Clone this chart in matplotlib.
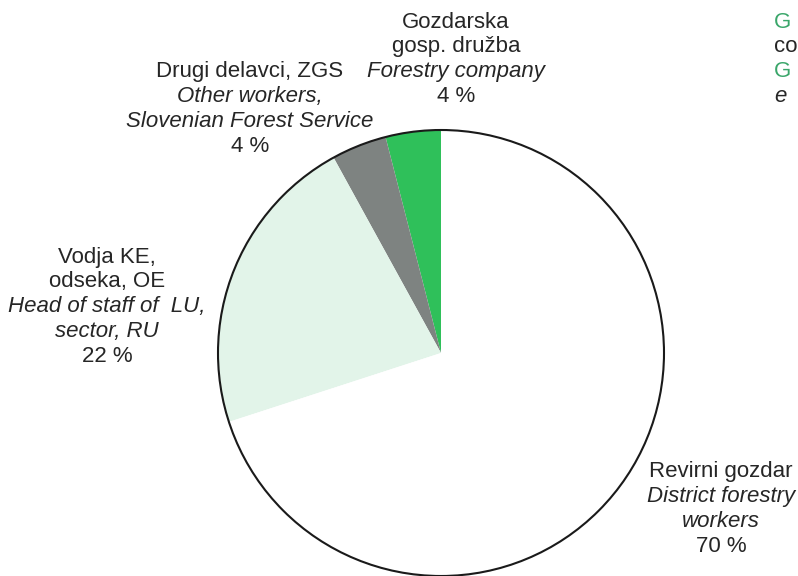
import matplotlib.pyplot as plt
from matplotlib.patches import Circle

plt.rcParams['font.family'] = ['Liberation Sans', 'DejaVu Sans']

# slices, counterclockwise from 12 o'clock
shares = [4, 4, 22, 70]
names_sl = ["Gozdarska\ngosp. družba", "Drugi delavci, ZGS", "Vodja KE,\nodseka, OE", "Revirni gozdar"]
names_en = ["Forestry company", "Other workers,\nSlovenian Forest Service",
            "Head of staff of  LU,\nsector, RU", "District forestry\nworkers"]
colors = ['#2fc05a', '#7e8381', '#e2f4e9', '#ffffff']

# label anchor (centre x, top line y) in pixels
label_pos = [(456, 22), (250, 72), (107, 257), (721, 472)]

fig = plt.figure(figsize=(7.98, 5.76), dpi=100)
ax = fig.add_axes([0, 0, 1, 1])

cx, cy, r = 441, 576 - 353, 223
ax.pie(shares, colors=colors, startangle=90, counterclock=True,
       center=(cx, cy), radius=r, wedgeprops=dict(linewidth=0))
ax.add_patch(Circle((cx, cy), r, fill=False, edgecolor='#1a1a1a', linewidth=1.5))

ax.set_xlim(0, 798)
ax.set_ylim(0, 576)
ax.set_aspect('equal')
ax.axis('off')

fs = 16
step = 24.8
txt = '#262626'
for sl, en, v, (x, y) in zip(names_sl, names_en, shares, label_pos):
    lines = [(s, 'normal') for s in sl.split('\n')]
    lines += [(s, 'italic') for s in en.split('\n')]
    lines += [(f'{v} %', 'normal')]
    for i, (s, st) in enumerate(lines):
        ax.text(x, 576 - (y + i * step), s, ha='center', va='center',
                fontsize=fs, style=st, color=txt)

# fragments of a legend at the right edge of the source image
legend_bits = [('G', '#3aa66a', 'normal'), ('co', txt, 'normal'),
               ('G', '#3aa66a', 'normal'), ('e', txt, 'italic')]
for i, (s, c, st) in enumerate(legend_bits):
    ax.text(774, 576 - (22 + i * step), s, ha='left', va='center',
            fontsize=fs, color=c, style=st)

fig.savefig('out.png', dpi=100)
